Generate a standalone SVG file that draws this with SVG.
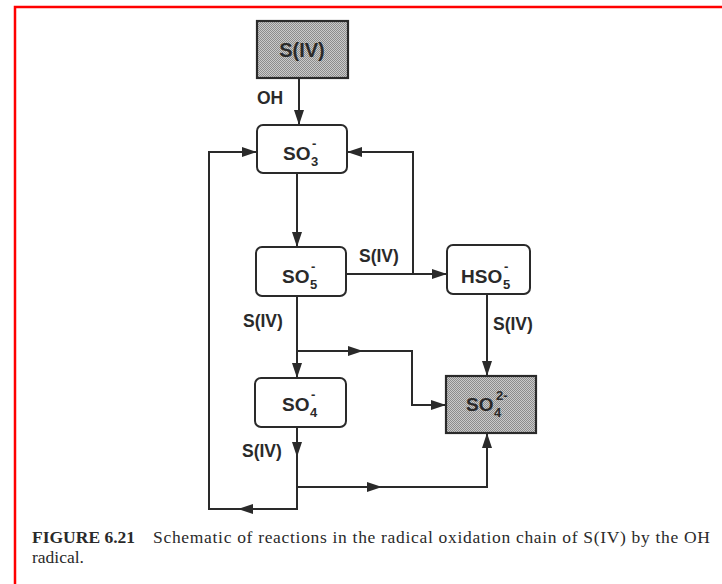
<svg xmlns="http://www.w3.org/2000/svg" width="722" height="584" viewBox="0 0 722 584">
<style>
.bx{fill:#fff;stroke:#2a2a2a;stroke-width:2}
.sh{fill:url(#stip);stroke:#2a2a2a;stroke-width:2.2}
.lb{font-family:"Liberation Sans",Arial,sans-serif;font-weight:bold;font-size:19px;fill:#2a2a2a}
.el{font-family:"Liberation Sans",Arial,sans-serif;font-weight:bold;font-size:17.5px;fill:#2a2a2a}
.sm{font-family:"Liberation Sans",Arial,sans-serif;font-weight:bold;font-size:13px;fill:#2a2a2a}
.cn{fill:none;stroke:#2a2a2a;stroke-width:2}
.cap{font-family:"Liberation Serif","Times New Roman",serif;font-size:17.5px;fill:#2a2a2a}
</style>
<defs>
<pattern id="stip" width="2" height="2" patternUnits="userSpaceOnUse">
<rect width="2" height="2" fill="#cacaca"/>
<rect x="0" y="0" width="1" height="1" fill="#8c8c8c"/>
<rect x="1" y="1" width="1" height="1" fill="#8c8c8c"/>
</pattern>
<marker id="ah" markerWidth="15" markerHeight="10" refX="15" refY="5" orient="auto" markerUnits="userSpaceOnUse">
<path d="M0,0 L15,5 L0,10 z" fill="#2a2a2a"/>
</marker>
</defs>
<rect width="722" height="584" fill="#fff"/>
<path d="M15,584 V7 H722" fill="none" stroke="#ff0000" stroke-width="2.5"/>

<g id="connectors">
<path class="cn" d="M299,78 V125" marker-end="url(#ah)"/>
<path class="cn" d="M297,173 V247" marker-end="url(#ah)"/>
<path class="cn" d="M346,274 H447" marker-end="url(#ah)"/>
<path class="cn" d="M413,274 V152 H347" marker-end="url(#ah)"/>
<path class="cn" d="M297,296 V378" marker-end="url(#ah)"/>
<path class="cn" d="M297,351 H363" marker-end="url(#ah)"/>
<path class="cn" d="M363,351 H412 V405 H446" marker-end="url(#ah)"/>
<path class="cn" d="M297,427 V457" marker-end="url(#ah)"/>
<path class="cn" d="M297,457 V509 H238" marker-end="url(#ah)"/>
<path class="cn" d="M238,509 H209 V152 H257" marker-end="url(#ah)"/>
<path class="cn" d="M297,487 H382" marker-end="url(#ah)"/>
<path class="cn" d="M382,487 H487 V433" marker-end="url(#ah)"/>
<path class="cn" d="M487,294 V376" marker-end="url(#ah)"/>
<text class="el" x="257" y="104">OH</text>
<text class="el" x="359" y="262">S(IV)</text>
<text class="el" x="243" y="327">S(IV)</text>
<text class="el" x="493" y="330">S(IV)</text>
<text class="el" x="242" y="457">S(IV)</text>
</g>

<g id="siv">
<rect class="sh" x="257" y="21" width="91" height="57"/>
<text class="lb" x="302" y="57" text-anchor="middle" style="font-size:20px">S(IV)</text>
</g>

<g id="so3">
<rect class="bx" x="257" y="125" width="90" height="48" rx="6"/>
<text class="lb" x="283" y="160">SO</text>
<text class="sm" x="312" y="148">-</text>
<text class="sm" x="311" y="166">3</text>
</g>

<g id="so5">
<rect class="bx" x="256" y="247" width="90" height="49" rx="6"/>
<text class="lb" x="282" y="283">SO</text>
<text class="sm" x="311" y="271">-</text>
<text class="sm" x="310" y="289">5</text>
</g>

<g id="hso5">
<rect class="bx" x="447" y="245" width="83" height="49" rx="6"/>
<text class="lb" x="461" y="283">HSO</text>
<text class="sm" x="504" y="271">-</text>
<text class="sm" x="503" y="289">5</text>
</g>

<g id="so4">
<rect class="bx" x="255" y="378" width="91" height="49" rx="6"/>
<text class="lb" x="282" y="411">SO</text>
<text class="sm" x="311" y="399">-</text>
<text class="sm" x="310" y="417">4</text>
</g>

<g id="so42">
<rect class="sh" x="446" y="376" width="90" height="57"/>
<text class="lb" x="466" y="411">SO</text>
<text class="sm" x="496" y="400">2-</text>
<text class="sm" x="494" y="417">4</text>
</g>

<g id="caption">
<text class="cap" x="32" y="543"><tspan font-weight="bold">FIGURE 6.21</tspan></text>
<text class="cap" x="153" y="543" textLength="557" lengthAdjust="spacing">Schematic of reactions in the radical oxidation chain of S(IV) by the OH</text>
<text class="cap" x="32" y="563">radical.</text>
</g>
</svg>
